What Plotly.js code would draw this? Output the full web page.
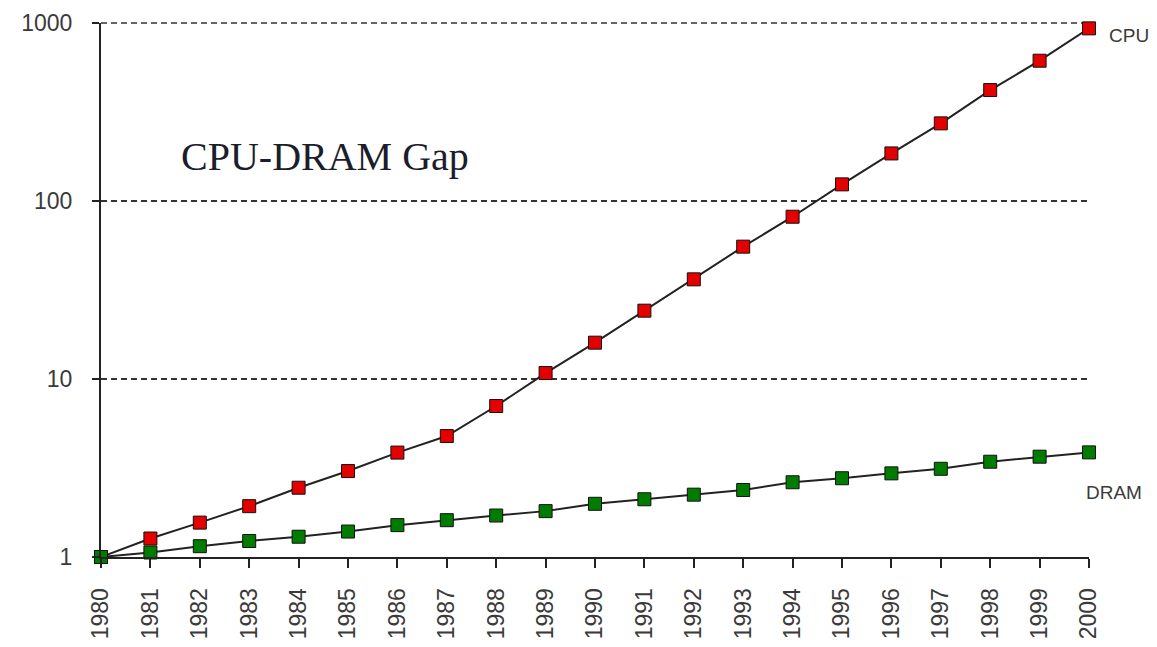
<!DOCTYPE html>
<html>
<head>
<meta charset="utf-8">
<script src="https://cdn.plot.ly/plotly-3.0.1.min.js"></script>
<style>html,body{margin:0;padding:0;background:#fff;}#chart{width:1157px;height:647px;}</style>
</head>
<body>
<div id="chart"></div>
<script>
const years = [1980,1981,1982,1983,1984,1985,1986,1987,1988,1989,1990,1991,1992,1993,1994,1995,1996,1997,1998,1999,2000];
const cpu = [1,1.27,1.56,1.93,2.45,3.04,3.86,4.78,7.05,10.8,16.0,24.2,36.3,55.4,81.6,124,185,273,420,614,933];
const dram = [1,1.06,1.15,1.23,1.30,1.39,1.51,1.61,1.71,1.81,1.99,2.11,2.24,2.38,2.63,2.77,2.95,3.13,3.43,3.66,3.87];
const yTickVals = [1,10,100,1000];
const yTickText = ['1','10','100','1000'];
const xTickText = years.map(String);
const titleText = 'CPU-DRAM Gap';
const seriesNames = ['CPU','DRAM'];

const lineStyle = {color:'#222', width:2};
const traces = [
  {x:years, y:cpu, name:seriesNames[0], type:'scatter', mode:'lines+markers', cliponaxis:false,
   line:lineStyle, marker:{symbol:'square', size:13, color:'#e50000', line:{color:'#111', width:1}}},
  {x:years, y:dram, name:seriesNames[1], type:'scatter', mode:'lines+markers', cliponaxis:false,
   line:lineStyle, marker:{symbol:'square', size:13, color:'#007d00', line:{color:'#111', width:1}}}
];

const tickFont = {family:'Liberation Sans, Arial, sans-serif', size:23, color:'#3a3a3a'};
const gridStyle = {color:'#333', width:1.5, dash:'6px,4px'};
const layout = {
  width:1157, height:647,
  margin:{l:101, r:68, t:23, b:90, pad:0},
  paper_bgcolor:'#fff', plot_bgcolor:'#fff',
  showlegend:false,
  xaxis:{range:[1980,2000], tickvals:years, ticktext:xTickText, tickangle:-90,
    showgrid:false, zeroline:false, showline:true, linecolor:'#222', linewidth:2,
    ticks:'outside', ticklen:9, tickwidth:2, tickcolor:'#222', tickfont:tickFont, ticklabelstandoff:11},
  xaxis2:{overlaying:'x', anchor:'y', side:'bottom', range:[1980,2000], tickvals:years,
    showticklabels:false, showgrid:false, zeroline:false, showline:false,
    ticks:'inside', ticklen:8, tickwidth:2, tickcolor:'#222'},
  yaxis:{type:'log', range:[0,3], tickvals:yTickVals, ticktext:yTickText,
    showgrid:true, gridcolor:gridStyle.color, gridwidth:gridStyle.width, griddash:gridStyle.dash,
    zeroline:false, showline:true, linecolor:'#222', linewidth:2,
    ticks:'outside', ticklen:7, tickwidth:2, tickcolor:'#222', tickfont:tickFont, ticklabelstandoff:15},
  shapes:[
    {type:'line', xref:'paper', yref:'paper', x0:0, x1:1, y0:1, y1:1, layer:'below',
     line:{color:gridStyle.color, width:gridStyle.width, dash:gridStyle.dash}}
  ],
  annotations:[
    {text:titleText, xref:'x', yref:'y', x:1981.58, y:2.25, xanchor:'left', yanchor:'middle', showarrow:false,
     font:{family:'Liberation Serif, Times New Roman, serif', size:40, color:'#1b1d2b'}},
    {text:seriesNames[0], xref:'paper', yref:'paper', x:1.018, y:0.9775, xanchor:'left', yanchor:'middle', showarrow:false,
     font:{family:'Liberation Sans, Arial, sans-serif', size:19, color:'#3a3a3a'}},
    {text:seriesNames[1], xref:'x', yref:'y', x:1999.9, y:0.365, xanchor:'left', yanchor:'middle', showarrow:false,
     font:{family:'Liberation Sans, Arial, sans-serif', size:19, color:'#3a3a3a'}}
  ]
};
Plotly.newPlot('chart', traces, layout, {displayModeBar:false, staticPlot:true});
</script>
</body>
</html>
